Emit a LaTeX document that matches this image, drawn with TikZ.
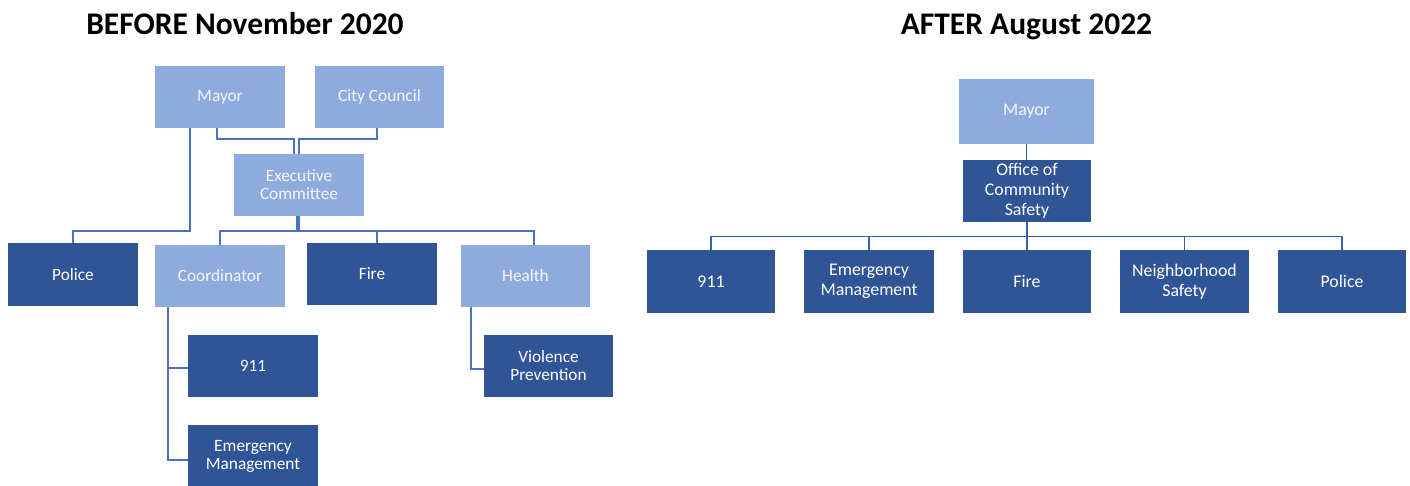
\documentclass[tikz,border=0pt]{standalone}
\usepackage{fontspec}
\setmainfont{Carlito}
\definecolor{lightbox}{HTML}{8FAADC}
\definecolor{darkbox}{HTML}{2F5597}
\definecolor{lineL}{HTML}{4A73C2}
\definecolor{lineR}{HTML}{3861AE}
\definecolor{txtlight}{HTML}{F4F6FB}
\tikzset{
  box/.style={rectangle, inner sep=0pt, align=center, minimum width=130pt, minimum height=62pt},
  lbox/.style={box, fill=lightbox, text=txtlight},
  dbox/.style={box, fill=darkbox, text=white},
  lfont/.style={font=\fontsize{17.3}{18}\selectfont},
  rfont/.style={font=\fontsize{17.8}{20}\selectfont},
  linkL/.style={draw=lineL, line width=1.8pt},
  linkR/.style={draw=lineR, line width=1.4pt},
  title/.style={font=\fontsize{31.5}{34}\selectfont\bfseries, anchor=base}
}
\begin{document}
\begin{tikzpicture}[x=1pt,y=-1pt]
\useasboundingbox (0,0) rectangle (1410,485);
% titles
\node[title] (t1) at (245,34) {BEFORE November 2020};
\node[title] (t2) at (1026.5,34) {AFTER August 2022};
% left chart
\node[lbox,lfont] (Lmayor) at (220,97) {Mayor};
\node[lbox,lfont,minimum width=129pt] (Lcouncil) at (379.5,97) {City Council};
\node[lbox,lfont] (Lexec) at (299,185) {Executive\\Committee};
\node[dbox,lfont,minimum height=63pt] (Lpolice) at (73,274.5) {Police};
\node[lbox,lfont] (Lcoord) at (220,276) {Coordinator};
\node[dbox,lfont] (Lfire) at (372,274) {Fire};
\node[lbox,lfont,minimum width=129pt] (Lhealth) at (525.5,276) {Health};
\node[dbox,lfont] (L911) at (253,366) {911};
\node[dbox,lfont] (Lem) at (253,456) {Emergency\\Management};
\node[dbox,lfont,minimum width=129pt] (Lviol) at (548.5,366) {Violence\\Prevention};
% left connectors
\draw[linkL] ([xshift=-30pt]Lmayor.south) -- ++(0,103) -| (Lpolice.north);
\draw[linkL] ([xshift=-3pt]Lmayor.south) -- ++(0,11) -| ([xshift=-5pt]Lexec.north);
\draw[linkL] ([xshift=-2.5pt]Lcouncil.south) -- ++(0,11) -| (Lexec.north);
\draw[linkL] ([xshift=-2pt]Lexec.south) -- ++(0,15) -| (Lcoord.north);
\draw[linkL] (Lexec.south) -- ++(0,15) -| ([xshift=5pt]Lfire.north);
\draw[linkL] (Lexec.south) -- ++(0,15) -| ([xshift=8.5pt]Lhealth.north);
\draw[linkL] ([xshift=-52pt]Lcoord.south) |- ([yshift=-2pt]L911.west);
\draw[linkL] ([xshift=-52pt]Lcoord.south) |- ([yshift=-4pt]Lem.west);
\draw[linkL] ([xshift=-54.5pt]Lhealth.south) |- ([yshift=-3pt]Lviol.west);
% right chart
\node[lbox,rfont,minimum width=135pt,minimum height=65pt] (Rmayor) at (1026.5,111.5) {Mayor};
\node[dbox,rfont,minimum width=128pt] (Rocs) at (1027,191) {Office of\\Community\\Safety};
\node[dbox,rfont,minimum width=128pt,minimum height=63pt] (R911) at (711,281.5) {911};
\node[dbox,rfont,minimum height=63pt] (Rem) at (869,281.5) {Emergency\\Management};
\node[dbox,rfont,minimum width=128pt,minimum height=63pt] (Rfire) at (1027,281.5) {Fire};
\node[dbox,rfont,minimum width=129pt,minimum height=63pt] (Rns) at (1184.5,281.5) {Neighborhood\\Safety};
\node[dbox,rfont,minimum width=128pt,minimum height=63pt] (Rpolice) at (1342,281.5) {Police};
% right connectors
\draw[linkR] (Rmayor.south) -- (Rmayor.south |- Rocs.north);
\draw[linkR] (Rocs.south) -- ++(0,14) -| (R911.north);
\draw[linkR] (Rocs.south) -- ++(0,14) -| (Rem.north);
\draw[linkR] (Rocs.south) -- (Rocs.south |- Rfire.north);
\draw[linkR] (Rocs.south) -- ++(0,14) -| (Rns.north);
\draw[linkR] (Rocs.south) -- ++(0,14) -| (Rpolice.north);
\end{tikzpicture}
\end{document}
